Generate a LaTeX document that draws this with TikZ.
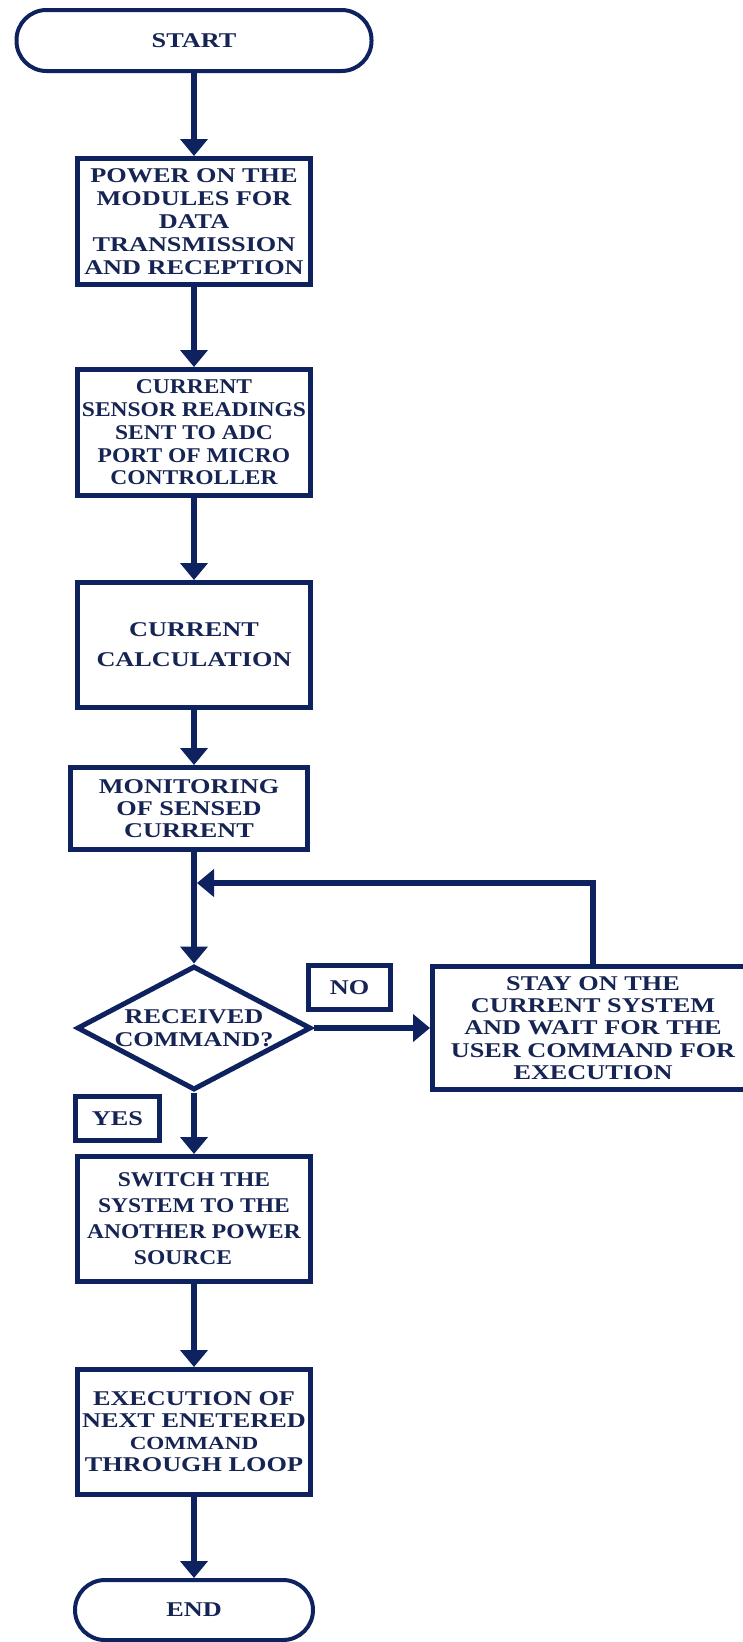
\documentclass[tikz,border=0pt]{standalone}
\usepackage{fontspec}
\newfontfamily\chartfont{Liberation Serif}[FakeStretch=1.25]
\newfontfamily\chartnarrow{Liberation Serif}[FakeStretch=1.12]
\usetikzlibrary{arrows.meta,shapes.geometric}

\definecolor{navy}{RGB}{14,34,96}
\definecolor{inkblue}{RGB}{22,36,84}

\tikzset{
  base/.style={draw=navy, text=inkblue, align=center, inner sep=0pt,
    font=\chartfont\bfseries\fontsize{21}{23}\selectfont},
  proc/.style={base, rectangle, line width=5pt, minimum width=233pt, minimum height=126pt},
  term/.style={base, rectangle, rounded corners=30pt, line width=4pt},
  decision/.style={base, diamond, line width=5pt, aspect=1.89,
    minimum width=234pt, minimum height=124pt},
  tag/.style={base, rectangle, line width=5pt},
  flow/.style={draw=navy, line width=5.5pt, -{Triangle[width=27pt,length=17pt]}},
}

\begin{document}
\begin{tikzpicture}[x=1pt,y=-1pt]
  \useasboundingbox (0,0) rectangle (743,1642);
  \fill[white] (0,0) rectangle (743,1642);
  \clip (0,0) rectangle (743,1642);

  % terminals, process boxes and the decision
  \node[term, minimum width=355pt, minimum height=61pt] (start) at (194,40.5) {START};

  \node[proc] (power) at (194,221.5)
    {POWER ON THE\\MODULES FOR\\DATA\\TRANSMISSION\\AND RECEPTION};

  \node[proc, font=\chartnarrow\bfseries\fontsize{21}{22.8}\selectfont] (sensor) at (194,432.5)
    {CURRENT\\SENSOR READINGS\\SENT TO ADC\\PORT OF MICRO\\CONTROLLER};

  \node[proc, minimum height=125pt] (calc) at (194,645)
    {CURRENT\\[7pt]CALCULATION};

  \node[proc, minimum width=237pt, minimum height=82pt,
        font=\chartfont\bfseries\fontsize{21}{22}\selectfont] (monitor) at (189,808.5)
    {MONITORING\\OF SENSED\\CURRENT};

  \coordinate (loopin) at (197,883);

  \node[decision] (received) at (194,1028) {RECEIVED\\COMMAND?};

  \node[tag, minimum width=82pt, minimum height=44pt] (no) at (349.5,987.5) {NO};

  \node[proc, minimum width=321pt, minimum height=123pt,
        font=\chartfont\bfseries\fontsize{21}{22.3}\selectfont] (stay) at (593,1028)
    {STAY ON THE\\CURRENT SYSTEM\\AND WAIT FOR THE\\USER COMMAND FOR\\EXECUTION};

  \node[tag, minimum width=84pt, minimum height=44pt] (yes) at (117.5,1118.5) {YES};

  \node[proc, minimum height=125pt,
        font=\chartnarrow\bfseries\fontsize{21}{26}\selectfont] (switch) at (194,1219)
    {SWITCH THE\\SYSTEM TO THE\\ANOTHER POWER\\SOURCE\hspace*{22pt}};

  \node[proc, minimum height=125pt,
        font=\chartfont\bfseries\fontsize{21}{22}\selectfont] (execute) at (194,1432)
    {EXECUTION OF\\NEXT ENETERED\\{\fontsize{18.5}{20}\selectfont COMMAND}\\THROUGH LOOP};

  \node[term, minimum width=238pt, minimum height=60pt] (end) at (194,1610) {END};

  % connectors
  \draw[flow] (start) -- (power);
  \draw[flow] (power) -- (sensor);
  \draw[flow] (sensor) -- (calc);
  \draw[flow] (calc) -- (monitor.north -| calc.south);
  \draw[flow] (monitor.south -| received.north) -- (received.north);
  \draw[flow] (stay.north) |- (loopin);
  \draw[flow] (received) -- (stay);
  \draw[flow] (received) -- (switch);
  \draw[flow] (switch) -- (execute);
  \draw[flow] (execute) -- (end);
\end{tikzpicture}
\end{document}
